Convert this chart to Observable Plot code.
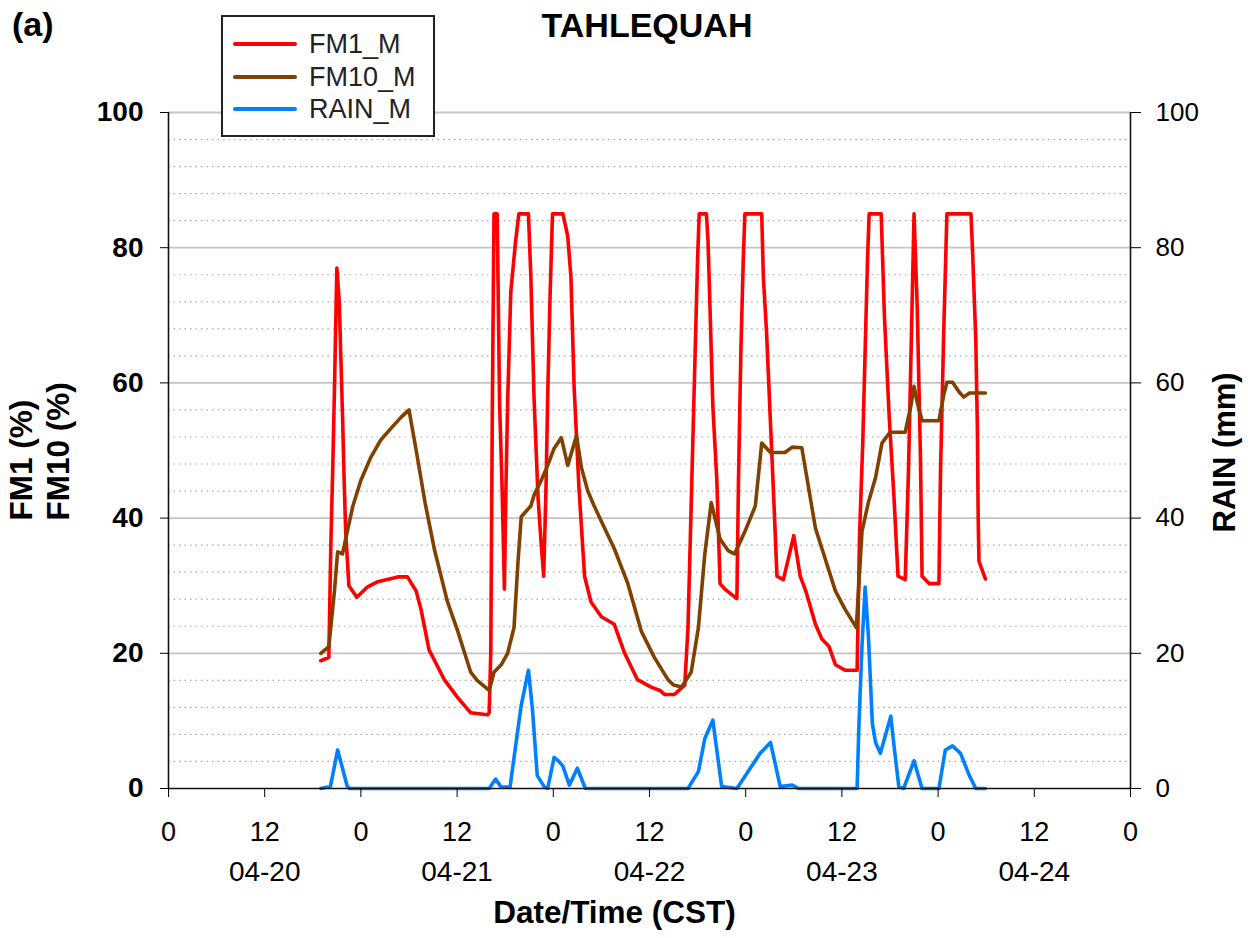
<!DOCTYPE html>
<html>
<head>
<meta charset="utf-8">
<script src="https://cdn.jsdelivr.net/npm/d3@7"></script>
<script src="https://cdn.jsdelivr.net/npm/@observablehq/plot@0.6"></script>
<style>
  body { margin: 0; background: #fff; font-family: "Liberation Sans", Arial, sans-serif; }
  #wrap { position: relative; width: 1248px; height: 938px; overflow: hidden; }
  .ov { position: absolute; color: #000; white-space: nowrap; }
  #panel { left: 12px; top: 5px; font-size: 34px; font-weight: bold; }
  #title { left: 647px; top: 6px; transform: translateX(-50%); font-size: 34px; font-weight: bold; }
  #legend { left: 221px; top: 15px; width: 210px; height: 118px; border: 2px solid #222; background: #fff; }
  .lg { position: absolute; left: 10px; width: 64px; height: 4px; border-radius: 2px; }
  .lt { position: absolute; left: 86px; font-size: 27px; color: #222; line-height: 30px; }
</style>
</head>
<body>
<div id="wrap"></div>
<script>
// time in hours since 04-20 00:00 CST
const fm1Hours = [19.0,20.0,20.25,20.5,20.7,21.0,21.3,21.5,21.7,21.9,22.1,22.5,23.5,24.8,26.1,28.6,29.8,30.9,31.5,32.5,33.2,34.4,36.1,37.7,39.8,40.0,40.2,40.4,40.6,41.0,41.3,41.6,41.9,42.1,42.3,42.7,43.3,43.7,44.9,45.2,45.6,46.1,46.5,46.8,47.1,47.3,47.6,47.9,49.2,49.8,50.2,50.6,51.2,51.9,52.7,54.0,55.6,56.9,58.5,60.2,61.3,61.9,63.1,64.4,64.8,65.1,65.4,65.7,66.0,66.2,67.1,67.3,67.5,67.9,68.4,68.8,69.4,70.9,71.1,71.4,71.7,71.9,74.0,74.2,74.6,75.1,75.5,75.9,76.7,78.0,78.8,79.5,80.7,81.5,82.4,83.2,84.4,85.9,86.2,86.6,86.9,87.2,87.4,88.9,89.3,89.9,90.5,91.0,91.9,92.3,92.7,93.0,93.4,93.8,94.0,94.9,96.1,96.3,96.7,97.1,100.1,100.3,100.7,100.9,101.0,101.1,101.9];
const fm1Values = [18.9,19.4,36,48,59,77,72,63.7,55.5,46,38,30,28.3,29.8,30.6,31.3,31.3,29.2,26.5,20.5,18.9,16.1,13.4,11.2,10.9,11.2,20,57,85,85,57,45,29.5,45,57,73.5,81,85,85,75.7,57.7,43,36,31.4,45,58,73,85,85,81.7,75.7,59.3,44.5,31.4,27.6,25.4,24.3,20,16.1,15,14.5,13.9,13.9,15.3,23.8,37.4,51.1,64.8,78.4,85,85,81,73,56.6,45.6,30.3,29.5,28.1,45.6,64.8,78.4,85,85,75.7,67.5,53.8,42.9,31.4,30.9,37.4,31.4,29.2,24.3,22.1,21,18.3,17.5,17.5,37.4,51.1,64.8,78.4,85,85,70,55,43,31.4,30.9,46.7,68.6,85,71,49,31.4,30.3,30.3,46.7,67.5,85,85,79.5,66.4,53.3,40,33.6,31];

const fm10Hours = [19.0,20.0,20.7,21.1,21.7,22.3,23.0,24.0,25.2,26.5,28.0,29.0,30.0,30.9,32.0,33.2,34.8,36.1,37.7,38.5,40.0,40.6,41.5,42.3,43.1,43.6,44.0,45.2,45.6,46.5,47.3,48.1,49.0,49.8,50.9,51.5,52.3,53.1,54.4,55.6,57.3,59.0,60.6,62.3,63.0,64.0,65.2,66.1,66.9,67.7,68.8,69.8,70.6,71.9,73.2,74.0,75.1,76.9,77.8,79.0,80.7,83.2,84.4,85.8,86.5,87.3,88.2,89.0,90.0,91.9,92.6,93.0,93.4,94.0,96.1,96.7,97.1,97.8,98.6,99.2,99.9,101.9];
const fm10Values = [20,21,29.2,35,34.7,38,41.8,45.6,48.9,51.6,53.6,54.9,56,50,42.3,35.2,27.6,23.2,17.2,16,14.5,17.2,18.3,20,23.8,33.6,40.2,41.8,43.4,45.6,47.8,50.3,51.9,47.8,52.2,47.5,44,41.8,38.5,35.5,30.3,23.2,19.4,16.1,15.3,15,17.2,23.8,34.7,42.3,36.9,35.2,34.7,38,41.8,51.1,49.7,49.7,50.5,50.4,38.5,29.2,26.5,23.8,38,42.3,46,51.1,52.7,52.7,56.6,59.5,57.1,54.4,54.4,58.2,60.1,60.1,58.7,57.9,58.5,58.5];

const rainHours = [19.0,20.2,21.1,22.3,22.6,40.0,40.8,41.5,42.6,43.3,44.0,44.9,45.4,46.0,46.9,47.3,48.1,48.7,49.2,50.0,51.0,52.0,64.8,66.1,66.9,67.9,69.0,70.9,72.3,73.8,75.1,76.3,77.8,78.6,85.9,86.1,86.5,86.9,87.3,87.8,88.2,88.8,90.1,90.5,91.1,91.7,93.0,94.0,96.1,96.9,97.8,98.8,99.9,100.7,101.9];
const rainValues = [0,0.3,5.7,0.3,0,0,1.4,0.2,0.2,6.3,12.3,17.5,11.7,1.9,0.2,0,4.6,4,3.3,0.5,3,0,0,2.5,7.4,10.1,0.3,0,2.5,5.2,6.8,0.3,0.5,0,0,8.5,21,29.8,22.7,9.6,6.8,5.2,10.7,6.3,0.3,0,4.1,0,0,5.7,6.3,5.2,1.9,0,0];

const hourTicks = [0,12,24,36,48,60,72,84,96,108,120];
const hourTickLabels = ["0","12","0","12","0","12","0","12","0","12","0"];
const dateTicks = [12,36,60,84,108];
const dateLabels = ["04-20","04-21","04-22","04-23","04-24"];
const yTicks = [0,20,40,60,80,100];

const seriesNames = ["FM1_M","FM10_M","RAIN_M"];
const seriesColors = ["#ff0000","#804000","#0080ff"];

const toRows = (hs, vs) => hs.map((h, i) => ({h, v: vs[i]}));
const fm1 = toRows(fm1Hours, fm1Values);
const fm10 = toRows(fm10Hours, fm10Values);
const rain = toRows(rainHours, rainValues);
const minorGrid = d3.range(4, 100, 4).filter(v => v % 20 !== 0);
const majorGrid = [20,40,60,80,100];

const FONT = "Liberation Sans, Arial, sans-serif";

const chart = Plot.plot({
  width: 1248,
  height: 938,
  marginLeft: 168,
  marginRight: 118,
  marginTop: 112,
  marginBottom: 150,
  style: {fontFamily: FONT, background: "white", color: "black", overflow: "visible"},
  x: {domain: [0, 120]},
  y: {domain: [0, 100]},
  marks: [
    Plot.ruleY(minorGrid, {stroke: "#a8a8a8", strokeWidth: 1.2, strokeDasharray: "1.5,4"}),
    Plot.ruleY(majorGrid, {stroke: "#c4c4c4", strokeWidth: 1.8}),
    Plot.line(fm1, {x: "h", y: "v", stroke: seriesColors[0], strokeWidth: 3.6, strokeLinejoin: "round"}),
    Plot.line(fm10, {x: "h", y: "v", stroke: seriesColors[1], strokeWidth: 3.6, strokeLinejoin: "round"}),
    Plot.line(rain, {x: "h", y: "v", stroke: seriesColors[2], strokeWidth: 3.6, strokeLinejoin: "round"}),
    Plot.ruleX([0, 120], {stroke: "#111", strokeWidth: 1.6}),
    Plot.ruleY([0], {stroke: "#111", strokeWidth: 1.6}),
    Plot.axisY({anchor: "left", ticks: yTicks, tickSize: 8, tickPadding: 17, fontSize: 28, fontWeight: "bold", label: null}),
    Plot.axisY({anchor: "right", ticks: yTicks, tickSize: 10, tickPadding: 15, fontSize: 26, label: null}),
    Plot.axisX({ticks: hourTicks, tickFormat: d => hourTickLabels[hourTicks.indexOf(d)], tickSize: 9, tickPadding: 24, fontSize: 27, label: null}),
    Plot.axisX({ticks: dateTicks, tickFormat: d => dateLabels[dateTicks.indexOf(d)], tickSize: 0, tickPadding: 73, fontSize: 28, label: null}),
    Plot.text(["Date/Time (CST)"], {frameAnchor: "bottom", dx: -35, dy: 134, fontSize: 31.5, fontWeight: "bold"}),
    Plot.text(["FM1 (%)"], {frameAnchor: "left", textAnchor: "start", dx: -147, dy: 70, rotate: -90, fontSize: 31.5, fontWeight: "bold"}),
    Plot.text(["FM10 (%)"], {frameAnchor: "left", textAnchor: "start", dx: -110, dy: 70, rotate: -90, fontSize: 31.5, fontWeight: "bold"}),
    Plot.text(["RAIN (mm)"], {frameAnchor: "right", textAnchor: "start", dx: 95, dy: 82, rotate: -90, fontSize: 31, fontWeight: "bold"})
  ]
});

const wrap = document.getElementById("wrap");
wrap.appendChild(chart);

function addDiv(id, cls, text) {
  const d = document.createElement("div");
  if (id) d.id = id;
  d.className = cls;
  if (text) d.textContent = text;
  wrap.appendChild(d);
  return d;
}
addDiv("panel", "ov", "(a)");
addDiv("title", "ov", "TAHLEQUAH");
const legend = addDiv("legend", "ov");
const rowY = [27, 60, 92];
seriesNames.forEach((name, i) => {
  const l = document.createElement("div");
  l.className = "lg";
  l.style.top = (rowY[i] - 2) + "px";
  l.style.background = seriesColors[i];
  legend.appendChild(l);
  const t = document.createElement("div");
  t.className = "lt";
  t.style.top = (rowY[i] - 15) + "px";
  t.textContent = name;
  legend.appendChild(t);
});
</script>
</body>
</html>
